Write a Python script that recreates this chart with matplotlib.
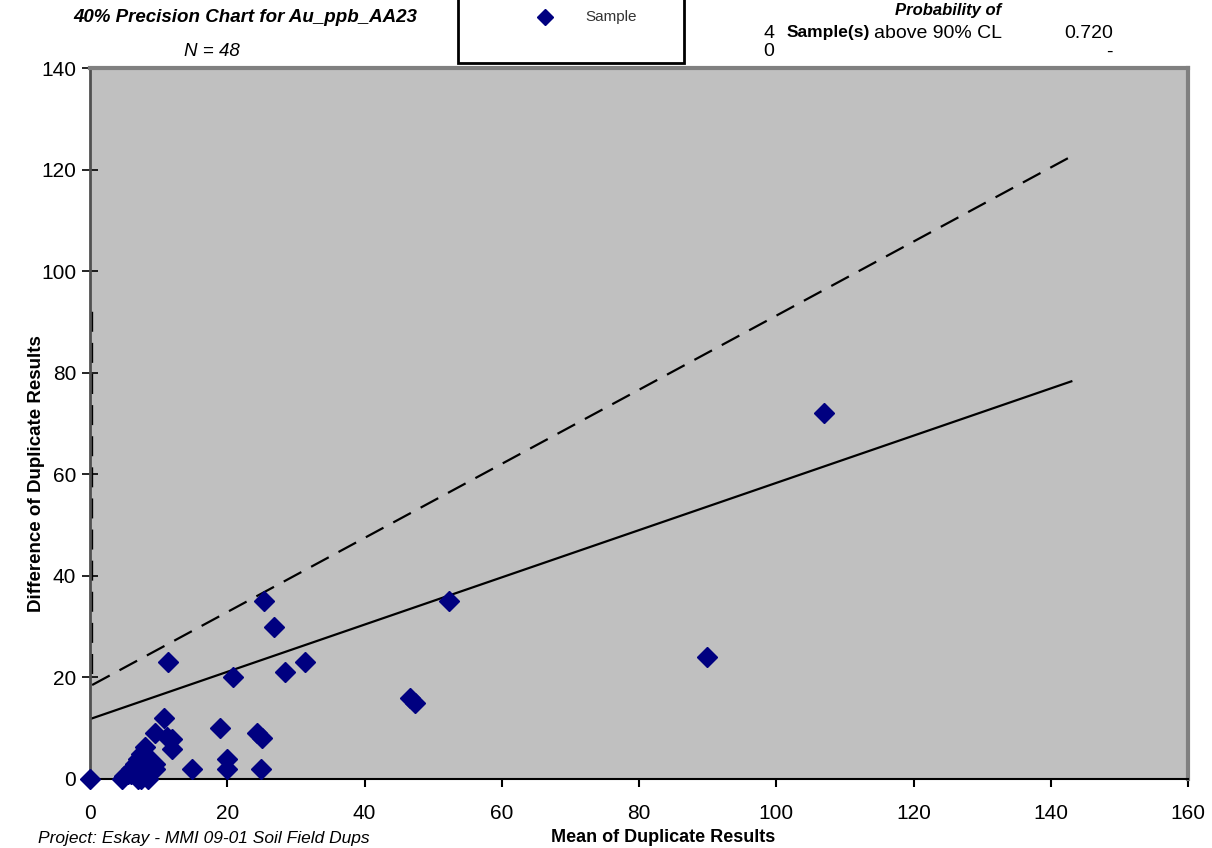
import matplotlib
matplotlib.use("Agg")
import matplotlib.pyplot as plt
from matplotlib.lines import Line2D
from matplotlib.patches import Rectangle

plt.rcParams['font.family'] = ['Liberation Sans', 'DejaVu Sans']

# duplicate pairs: mean vs difference
mean_dup = [0.0, 4.7, 11.3, 25.4, 26.8, 52.3, 106.9, 89.9, 28.4, 31.3,
            20.8, 46.6, 47.4, 10.8, 18.9, 24.4, 25.0, 9.4, 11.2, 11.9,
            11.9, 8.0, 14.9, 19.9, 19.9, 24.9,
            5.0, 5.5, 6.0, 6.0, 6.5, 6.5, 7.0, 7.0, 7.0, 7.5, 7.5,
            7.5, 8.0, 8.0, 8.5, 8.5, 9.0, 9.5, 9.5, 7.0, 7.5, 8.5]
diff_dup = [0.0, 0.0, 23.0, 35.0, 30.0, 35.0, 72.0, 24.0, 21.0, 23.0,
            20.0, 16.0, 15.0, 12.0, 10.0, 9.0, 8.0, 9.0, 8.3, 7.9,
            6.0, 6.3, 2.0, 4.0, 2.0, 2.0,
            0.5, 1.0, 1.0, 2.0, 2.0, 3.0, 1.0, 3.0, 4.0, 2.0, 4.0,
            5.0, 3.0, 5.0, 2.0, 4.0, 3.0, 2.0, 3.0, 0.0, 0.0, 0.0]

# precision lines
prec_x = [0, 143]
prec_y = [11.8, 78.3]
cl90_x = [0.3, 0.3, 143]
cl90_y = [92.0, 18.5, 122.6]

xticks = [0, 20, 40, 60, 80, 100, 120, 140, 160]
yticks = [0, 20, 40, 60, 80, 100, 120, 140]

W, H = 1212, 848
fig = plt.figure(figsize=(W / 100, H / 100), dpi=100)
ax = fig.add_axes([90 / W, 1 - 779 / H, (1188 - 90) / W, (779 - 68) / H])
ax.set_facecolor('#C0C0C0')

ax.plot(cl90_x, cl90_y, color='black', lw=1.6, ls=(0, (9, 5)))
ax.plot(prec_x, prec_y, color='black', lw=1.6)
ax.plot(mean_dup, diff_dup, ls='', marker='D', ms=10, color='#000080',
        mec='#000080', clip_on=False, zorder=5)

ax.set_xlim(0, 160)
ax.set_ylim(0, 140)
ax.set_xticks(xticks)
ax.set_yticks(yticks)
ax.tick_params(axis='x', direction='out', length=6, width=1.5, labelsize=15, pad=12)
ax.tick_params(axis='y', direction='inout', length=12, width=1.2, labelsize=15, pad=4)

for s in ['top', 'right']:
    ax.spines[s].set_color('#808080')
    ax.spines[s].set_linewidth(3)
ax.spines['left'].set_color('#505050')
ax.spines['left'].set_linewidth(2)
ax.spines['bottom'].set_color('black')
ax.spines['bottom'].set_linewidth(1.5)

ax.set_xlabel('Mean of Duplicate Results', fontsize=13, fontweight='bold')
ax.xaxis.set_label_coords(0.522, -0.070)
ax.set_ylabel('Difference of Duplicate Results', fontsize=13.5, fontweight='bold')
ax.yaxis.set_label_coords(-0.041, 0.43)


def fx(px):
    return px / W


def fy(py):
    return 1 - py / H


# title block
fig.text(fx(245), fy(17), '40% Precision Chart for Au_ppb_AA23', fontsize=13.5,
         fontweight='bold', style='italic', ha='center', va='center')
fig.text(fx(212), fy(52), 'N = 48', fontsize=13.5, style='italic',
         ha='center', va='center')

# legend box
fig.add_artist(Rectangle((fx(458), fy(63)), fx(684) - fx(458), fy(-5) - fy(63),
                         transform=fig.transFigure, facecolor='white',
                         edgecolor='black', lw=2, zorder=1))
fig.add_artist(Line2D([fx(545)], [fy(17)], marker='D', ms=8, color='#000080',
                      transform=fig.transFigure))
fig.text(fx(585), fy(17), 'Sample', fontsize=11, color='#333333', va='center')

# probability block
fig.text(fx(948), fy(10), 'Probability of', fontsize=12, fontweight='bold',
         style='italic', ha='center', va='center')
fig.text(fx(763), fy(33), '4', fontsize=14, va='center')
fig.text(fx(787), fy(33), 'Sample(s)', fontsize=12.5, fontweight='bold', va='center')
fig.text(fx(874), fy(33), 'above 90% CL', fontsize=14, va='center')
fig.text(fx(1113), fy(33), '0.720', fontsize=14, va='center', ha='right')
fig.text(fx(763), fy(52), '0', fontsize=14, va='center')
fig.text(fx(1113), fy(52), '-', fontsize=14, va='center', ha='right')

fig.text(fx(38), fy(839), 'Project: Eskay - MMI 09-01 Soil Field Dups',
         fontsize=12.5, style='italic', va='center')

fig.savefig('out.png', dpi=100)
